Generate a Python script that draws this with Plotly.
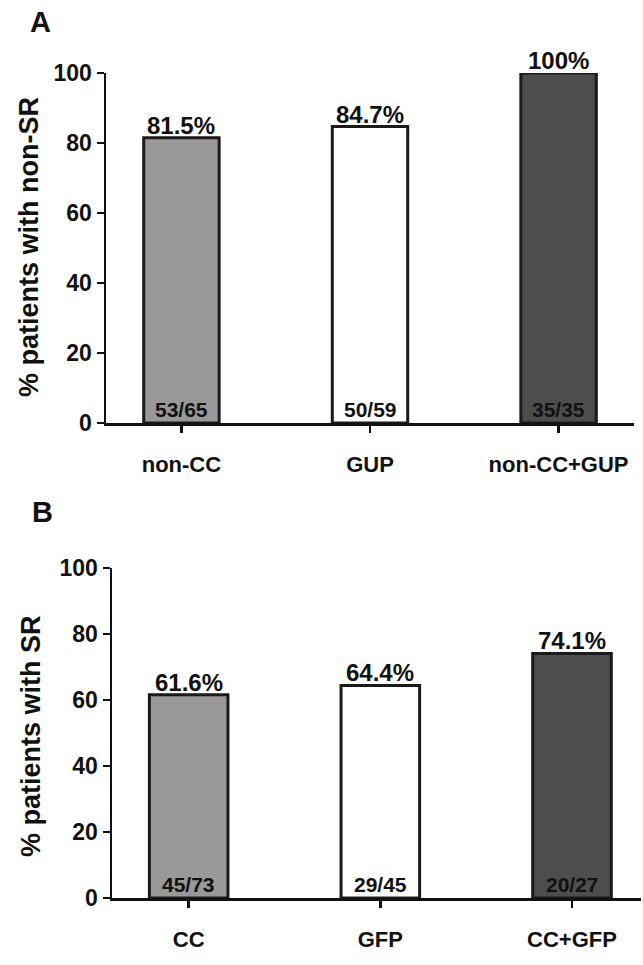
import plotly.graph_objects as go

# ---- data ----
cats_A = ["non-CC", "GUP", "non-CC+GUP"]
pct_A = [81.5, 84.7, 100]
counts_A = ["53/65", "50/59", "35/35"]

cats_B = ["CC", "GFP", "CC+GFP"]
pct_B = [61.6, 64.4, 74.1]
counts_B = ["45/73", "29/45", "20/27"]

bar_colors = ["#999999", "#ffffff", "#4d4d4d"]
y_ticks = [0, 20, 40, 60, 80, 100]

W, H = 643, 965
FAM = "Liberation Sans"
INK = "#111111"

def py(px):
    return 1 - px / H

def pxx(px):
    return px / W

fig = go.Figure()
fig.add_trace(go.Bar(x=cats_A, y=pct_A, width=0.40, marker=dict(color=bar_colors, line=dict(color="#1a1a1a", width=3)),
                     xaxis="x", yaxis="y", showlegend=False, hoverinfo="skip"))
fig.add_trace(go.Bar(x=cats_B, y=pct_B, width=0.41, marker=dict(color=bar_colors, line=dict(color="#1a1a1a", width=3)),
                     xaxis="x2", yaxis="y2", showlegend=False, hoverinfo="skip"))

axis_common = dict(showline=True, linewidth=2.5, linecolor=INK, ticks="outside", ticklen=7, tickwidth=2.5,
                   tickcolor=INK, showgrid=False, zeroline=False, fixedrange=True, automargin=False)

fig.update_layout(
    template="none",
    width=W, height=H, margin=dict(l=0, r=0, t=0, b=0, pad=0),
    plot_bgcolor="white", paper_bgcolor="white",
    font=dict(family=FAM, color=INK),
    xaxis=dict(domain=[pxx(106), pxx(634)], anchor="y", type="category", range=[-0.40, 2.40],
               tickfont=dict(family=FAM, size=22, weight="bold", color=INK), ticklabelstandoff=13, **axis_common),
    yaxis=dict(domain=[py(423), py(73)], anchor="x", range=[0, 100], tickvals=y_ticks,
               tickfont=dict(family=FAM, size=23, weight="bold", color=INK), **axis_common),
    xaxis2=dict(domain=[pxx(112), pxx(641)], anchor="y2", type="category", range=[-0.40, 2.36],
                tickfont=dict(family=FAM, size=22, weight="bold", color=INK), ticklabelstandoff=13, **axis_common),
    yaxis2=dict(domain=[py(898), py(568)], anchor="x2", range=[0, 100], tickvals=y_ticks,
                tickfont=dict(family=FAM, size=23, weight="bold", color=INK), **axis_common),
)

ann = []
for xa, ya, cats, vals, cnts in [("x", "y", cats_A, pct_A, counts_A), ("x2", "y2", cats_B, pct_B, counts_B)]:
    for c, v, n in zip(cats, vals, cnts):
        ann.append(dict(x=c, y=v, xref=xa, yref=ya, text=f"{v:g}%", showarrow=False, xanchor="center",
                        yanchor="bottom", yshift=-3, font=dict(family=FAM, size=24, weight="bold", color=INK)))
        ann.append(dict(x=c, y=0, xref=xa, yref=ya, text=n, showarrow=False, xanchor="center",
                        yanchor="bottom", yshift=0, font=dict(family=FAM, size=21, weight="bold", color=INK)))

# panel letters and axis titles
ann.append(dict(x=pxx(40), y=py(22), xref="paper", yref="paper", text="A", showarrow=False,
                xanchor="center", yanchor="middle", font=dict(family=FAM, size=29, weight="bold", color=INK)))
ann.append(dict(x=pxx(42), y=py(512), xref="paper", yref="paper", text="B", showarrow=False,
                xanchor="center", yanchor="middle", font=dict(family=FAM, size=29, weight="bold", color=INK)))
ann.append(dict(x=pxx(29), y=py(247), xref="paper", yref="paper", text="% patients with non-SR", textangle=-90,
                xanchor="center", yanchor="middle", showarrow=False,
                font=dict(family=FAM, size=27, weight="bold", color=INK)))
ann.append(dict(x=pxx(31), y=py(736), xref="paper", yref="paper", text="% patients with SR", textangle=-90,
                xanchor="center", yanchor="middle", showarrow=False,
                font=dict(family=FAM, size=27, weight="bold", color=INK)))

fig.update_layout(annotations=ann)
fig.write_html("out.html", config={"displayModeBar": False, "staticPlot": True},
               post_script="document.body.style.margin='0';document.body.style.overflow='hidden';")
